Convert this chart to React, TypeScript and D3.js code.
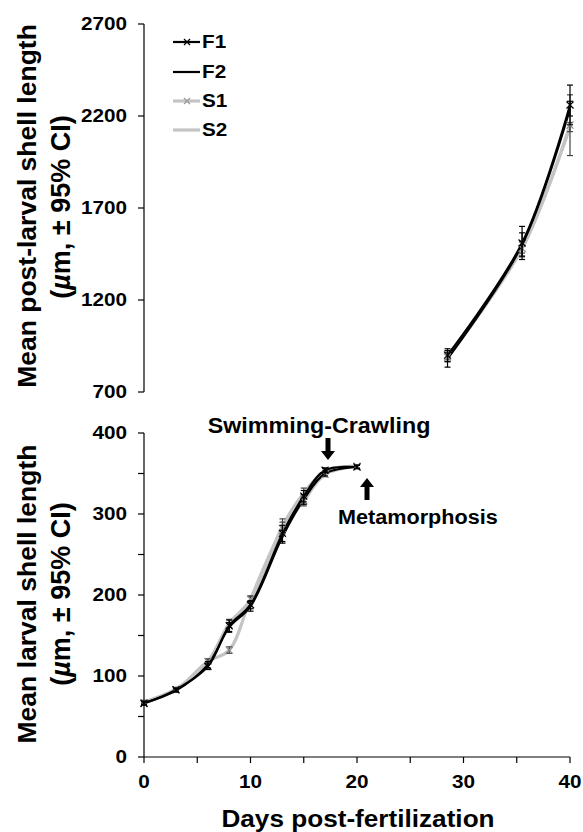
import React from "react";
import * as d3 from "d3";

const larvalDays = [0, 3, 6, 8, 10, 13, 15, 17, 20];
const larvalF1 = [66, 83, 112, 162, 188, 276, 322, 354, 358];
const larvalF2 = [67, 82, 114, 160, 186, 272, 318, 350, 358];
const larvalS1 = [67, 83, 118, 132, 195, 282, 316, 349, 359];
const larvalS2 = [68, 84, 118, 165, 194, 285, 326, 353, 359];
const larvalErrF1 = [2, 2, 4, 7, 5, 10, 7, 3, 2];
const larvalErrF2 = [2, 2, 4, 6, 6, 8, 6, 3, 2];
const larvalErrS1 = [2, 2, 3, 4, 4, 8, 6, 3, 2];
const larvalErrS2 = [2, 2, 3, 5, 4, 9, 6, 3, 2];

const postDays = [28.5, 35.5, 40];
const postF1 = [900, 1510, 2260];
const postF2 = [880, 1500, 2240];
const postS1 = [890, 1480, 2150];
const postS2 = [895, 1485, 2140];
const postErrF1 = [35, 90, 108];
const postErrF2 = [45, 65, 40];
const postErrS1 = [25, 40, 165];
const postErrS2 = [20, 30, 25];

const seriesNames = ["F1", "F2", "S1", "S2"];
const xTicks = [0, 10, 20, 30, 40];
const topYTicks = [700, 1200, 1700, 2200, 2700];
const bottomYTicks = [0, 100, 200, 300, 400];

const FONT = "'Liberation Sans', Arial, sans-serif";
const BLACK = "#000";
const GRAY = "#c4c4c4";
const styles = [
  { color: BLACK, width: 2.2, marker: true, errColor: BLACK },
  { color: BLACK, width: 2.2, marker: false, errColor: BLACK },
  { color: GRAY, width: 3.2, marker: true, errColor: "#444" },
  { color: GRAY, width: 3.2, marker: false, errColor: "#444" },
];

const SX = 1.15;

function Txt({ x, y, size, anchor = "middle", children, sx = SX }: any) {
  return (
    <text
      transform={`translate(${x},${y}) scale(${sx},1)`}
      fontSize={size}
      fontWeight="bold"
      fontFamily={FONT}
      textAnchor={anchor}
      dominantBaseline="central"
      fill="#000"
    >
      {children}
    </text>
  );
}

function VTitle({ x, y, size, children }: any) {
  return (
    <g transform={`translate(${x},${y}) rotate(-90)`}>
      <text fontSize={size} fontWeight="bold" fontFamily={FONT} textAnchor="middle" dominantBaseline="central">
        {children}
      </text>
    </g>
  );
}

export default function App() {
  const W = 583;
  const H = 832;
  const x = d3.scaleLinear().domain([0, 40]).range([144, 570]);
  const yTop = d3.scaleLinear().domain([700, 2700]).range([392, 24]);
  const yBot = d3.scaleLinear().domain([0, 400]).range([757, 433]);
  const curve = d3.curveCatmullRom.alpha(0.5);

  const larvalVals = [larvalF1, larvalF2, larvalS1, larvalS2];
  const larvalErrs = [larvalErrF1, larvalErrF2, larvalErrS1, larvalErrS2];
  const postVals = [postF1, postF2, postS1, postS2];
  const postErrs = [postErrF1, postErrF2, postErrS1, postErrS2];

  const drawSeries = (days: number[], vals: number[][], errs: number[][], y: any) => {
    const order = [3, 2, 1, 0];
    return (
      <g>
        {order.map((i) => {
          const st = styles[i];
          const line = d3
            .line<number>()
            .x((_, k) => x(days[k]))
            .y((v) => y(v))
            .curve(curve);
          return (
            <path key={"l" + i} d={line(vals[i]) || ""} fill="none" stroke={st.color} strokeWidth={st.width} />
          );
        })}
        {order.map((i) => {
          const st = styles[i];
          return (
            <g key={"e" + i}>
              {vals[i].map((v, k) => {
                const cx = x(days[k]);
                const y1 = y(v + errs[i][k]);
                const y2 = y(v - errs[i][k]);
                return (
                  <g key={k} stroke={st.errColor} strokeWidth={1.2}>
                    <line x1={cx} x2={cx} y1={y1} y2={y2} />
                    <line x1={cx - 3} x2={cx + 3} y1={y1} y2={y1} />
                    <line x1={cx - 3} x2={cx + 3} y1={y2} y2={y2} />
                  </g>
                );
              })}
              {st.marker &&
                vals[i].map((v, k) => {
                  const cx = x(days[k]);
                  const cy = y(v);
                  const s = 3.5;
                  return (
                    <g key={"m" + k} stroke={i === 0 ? BLACK : "#8a8a8a"} strokeWidth={1.2}>
                      <line x1={cx - s} x2={cx + s} y1={cy - s} y2={cy + s} />
                      <line x1={cx - s} x2={cx + s} y1={cy + s} y2={cy - s} />
                    </g>
                  );
                })}
            </g>
          );
        })}
      </g>
    );
  };

  const bottomMinor = d3.range(0, 401, 50);
  const xMinor = d3.range(0, 41, 5);

  const legendY = [42, 72, 101, 130];

  return (
    <svg width={W} height={H} style={{ position: "absolute", left: 0, top: 0, background: "#fff" }}>
      <rect width={W} height={H} fill="#fff" />
      {/* top axis */}
      <line x1={144} x2={144} y1={yTop(2700)} y2={yTop(700)} stroke="#000" strokeWidth={1.2} />
      {topYTicks.map((t) => (
        <g key={t}>
          <line x1={138} x2={144} y1={yTop(t)} y2={yTop(t)} stroke="#000" strokeWidth={1.2} />
          <Txt x={127} y={yTop(t)} size={18} anchor="end">
            {t}
          </Txt>
        </g>
      ))}
      {/* bottom axis */}
      <line x1={144} x2={144} y1={yBot(400)} y2={yBot(0)} stroke="#000" strokeWidth={1.2} />
      {bottomMinor.map((t) => (
        <line key={t} x1={138} x2={144} y1={yBot(t)} y2={yBot(t)} stroke="#000" strokeWidth={1.2} />
      ))}
      {bottomYTicks.map((t) => (
        <Txt key={t} x={127} y={yBot(t)} size={18} anchor="end">
          {t}
        </Txt>
      ))}
      <line x1={x(0)} x2={x(40)} y1={yBot(0)} y2={yBot(0)} stroke="#000" strokeWidth={1.2} />
      {xMinor.map((t) => (
        <line key={t} x1={x(t)} x2={x(t)} y1={yBot(0)} y2={yBot(0) + 6} stroke="#000" strokeWidth={1.2} />
      ))}
      {xTicks.map((t) => (
        <Txt key={t} x={x(t)} y={782} size={18}>
          {t}
        </Txt>
      ))}
      <Txt x={358} y={818} size={24} sx={1.09}>
        Days post-fertilization
      </Txt>

      {/* Y titles */}
      <VTitle x={27} y={206} size={26.5}>
        Mean post-larval shell length
      </VTitle>
      <VTitle x={61} y={207} size={27}>
        (<tspan fontStyle="italic">µ</tspan>m, ± 95% CI)
      </VTitle>
      <VTitle x={27} y={594} size={26.5}>
        Mean larval shell length
      </VTitle>
      <VTitle x={61} y={594} size={27}>
        (<tspan fontStyle="italic">µ</tspan>m, ± 95% CI)
      </VTitle>

      {drawSeries(postDays, postVals, postErrs, yTop)}
      {drawSeries(larvalDays, larvalVals, larvalErrs, yBot)}

      {/* legend */}
      {seriesNames.map((n, i) => {
        const st = styles[i];
        const ly = legendY[i];
        return (
          <g key={n}>
            <line x1={173} x2={200} y1={ly} y2={ly} stroke={st.color} strokeWidth={st.width} />
            {st.marker && (
              <g stroke={i === 0 ? BLACK : "#9a9a9a"} strokeWidth={1.2}>
                <line x1={184} x2={190} y1={ly - 3} y2={ly + 3} />
                <line x1={184} x2={190} y1={ly + 3} y2={ly - 3} />
              </g>
            )}
            <Txt x={202} y={ly} size={18} anchor="start">
              {n}
            </Txt>
          </g>
        );
      })}

      {/* annotations */}
      <Txt x={319} y={425} size={22} sx={1.06}>
        Swimming-Crawling
      </Txt>
      <path d="M325.5,438 L325.5,451 L321,451 L328,460 L335,451 L330.5,451 L330.5,438 Z" fill="#000" />
      <path d="M364.5,500 L364.5,487 L360,487 L367,478 L374,487 L369.5,487 L369.5,500 Z" fill="#000" />
      <Txt x={338} y={517} size={21} anchor="start" sx={1.03}>
        Metamorphosis
      </Txt>
    </svg>
  );
}
